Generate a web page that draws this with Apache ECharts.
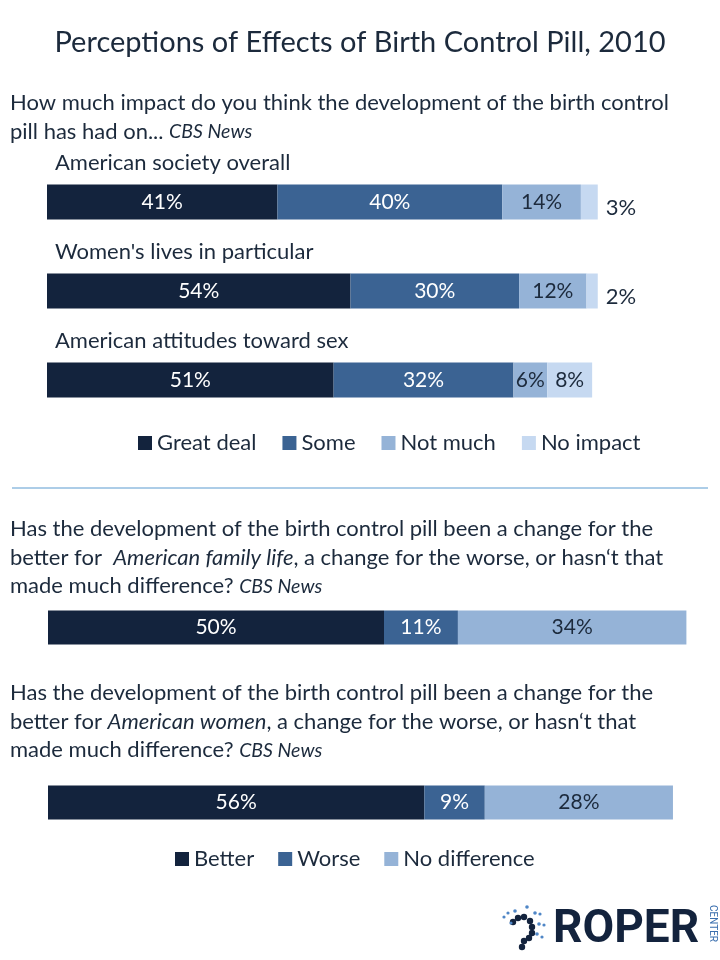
<!DOCTYPE html>
<html>
<head>
<meta charset="utf-8">
<script src="https://cdn.jsdelivr.net/npm/echarts@6/dist/echarts.min.js"></script>
<style>html,body{margin:0;padding:0;background:#fff}#c{width:720px;height:960px}</style>
</head>
<body>
<div id="c"></div>
<script>
// ---- data ----
var impactCategories = ['American society overall', "Women's lives in particular", 'American attitudes toward sex'];
var greatDeal = [41, 54, 51];
var some = [40, 30, 32];
var notMuch = [14, 12, 6];
var noImpact = [3, 2, 8];

var changeCategories = ['American family life', 'American women'];
var better = [50, 56];
var worse = [11, 9];
var noDifference = [34, 28];

var legendTop = ['Great deal', 'Some', 'Not much', 'No impact'];
var legendBottom = ['Better', 'Worse', 'No difference'];

// ---- style ----
var FONT = 'Lato';
var TXT = '#1c2a3c';
var C1 = '#13233d', C2 = '#3b6393', C3 = '#95b3d7', C4 = '#c6d9f1';
var FS = 22;

function barSeries(name, data, color, labelColor, grid, outsideSmall) {
  return {
    name: name, type: 'bar', stack: 's' + grid, xAxisIndex: grid, yAxisIndex: grid,
    barWidth: grid === 0 ? 35 : 34,
    itemStyle: { color: color },
    label: {
      show: true, position: 'inside', color: labelColor, fontFamily: FONT, fontSize: 21,
      formatter: '{c}%'
    },
    data: data.map(function (v) {
      if (outsideSmall && v < 5) {
        return { value: v, label: { position: 'right', distance: 8, color: TXT, fontSize: 22, offset: [0, 6] } };
      }
      return v;
    })
  };
}

function rich(lh) {
  return {
    fontWeight: 'normal',
    rich: {
      n: { fontFamily: FONT, fontSize: FS, fontWeight: 'normal', color: TXT, lineHeight: lh },
      i: { fontFamily: FONT, fontSize: FS, fontWeight: 'normal', fontStyle: 'italic', color: TXT, lineHeight: lh },
      s: { fontFamily: FONT, fontSize: 19.5, fontWeight: 'normal', fontStyle: 'italic', color: TXT, lineHeight: lh }
    }
  };
}

var chart = echarts.init(document.getElementById('c'));
chart.setOption({
  backgroundColor: '#fff',
  animation: false,
  title: [
    { text: 'Perceptions of Effects of Birth Control Pill, 2010', left: 'center', top: 23,
      textStyle: { fontFamily: FONT, fontSize: 29, fontWeight: 'normal', color: TXT } },
    { text: '{n|How much impact do you think the development of the birth control}\n{n|pill has had on... }{s|CBS News}',
      left: 5, top: 83, textStyle: rich(29) },
    { text: '{n|Has the development of the birth control pill been a change for the}\n{n|better for  }{i|American family life}{n|, a change for the worse, or hasn\u2018t that}\n{n|made much difference? }{s|CBS News}',
      left: 5, top: 510, textStyle: rich(28.5) },
    { text: '{n|Has the development of the birth control pill been a change for the}\n{n|better for }{i|American women}{n|, a change for the worse, or hasn\u2018t that}\n{n|made much difference? }{s|CBS News}',
      left: 5, top: 674, textStyle: rich(28.5) }
  ],
  legend: [
    { data: legendTop, left: 133, top: 427, icon: 'rect', itemWidth: 14, itemHeight: 14, itemGap: 26,
      selectedMode: false, textStyle: { fontFamily: FONT, fontSize: FS, color: TXT } },
    { data: legendBottom, left: 170, top: 843, icon: 'rect', itemWidth: 14, itemHeight: 14, itemGap: 24,
      selectedMode: false, textStyle: { fontFamily: FONT, fontSize: FS, color: TXT } }
  ],
  grid: [
    { left: 47, top: 157.5, width: 562, height: 267 },
    { left: 48, top: 540, width: 674, height: 350 }
  ],
  xAxis: [
    { type: 'value', gridIndex: 0, min: 0, max: 100, show: false },
    { type: 'value', gridIndex: 1, min: 0, max: 100, show: false }
  ],
  yAxis: [
    { type: 'category', gridIndex: 0, data: impactCategories, inverse: true,
      axisLine: { show: false }, axisTick: { show: false },
      axisLabel: { inside: true, align: 'left', verticalAlign: 'bottom', margin: 8,
        padding: [0, 0, 28, 0], fontFamily: FONT, fontSize: FS, color: TXT } },
    { type: 'category', gridIndex: 1, data: changeCategories, inverse: true, show: false }
  ],
  series: [
    barSeries('Great deal', greatDeal, C1, '#fff', 0),
    barSeries('Some', some, C2, '#fff', 0),
    barSeries('Not much', notMuch, C3, TXT, 0),
    barSeries('No impact', noImpact, C4, TXT, 0, true),
    barSeries('Better', better, C1, '#fff', 1),
    barSeries('Worse', worse, C2, '#fff', 1),
    barSeries('No difference', noDifference, C3, TXT, 1)
  ],
  graphic: [
    { type: 'line', shape: { x1: 12, y1: 488, x2: 708, y2: 488 }, style: { stroke: '#5a9bd0', lineWidth: 1 } },
    { type: 'group', children: [
      { type: 'text', x: 553, y: 930, style: { text: 'ROPER', fontFamily: 'Roboto', fontWeight: 'bold', fontSize: 46, fill: '#13233d', verticalAlign: 'middle' } },
      { type: 'text', x: 712, y: 905, rotation: -Math.PI / 2, style: { text: 'CENTER', fontFamily: 'Roboto', fontSize: 10, fill: '#3b6fae', verticalAlign: 'middle' } },
      { type: 'circle', shape: { cx: 513, cy: 922, r: 3.2 }, style: { fill: '#13233d' } },
      { type: 'circle', shape: { cx: 518, cy: 918, r: 3.2 }, style: { fill: '#13233d' } },
      { type: 'circle', shape: { cx: 524, cy: 917, r: 3.2 }, style: { fill: '#13233d' } },
      { type: 'circle', shape: { cx: 530, cy: 921, r: 3.2 }, style: { fill: '#13233d' } },
      { type: 'circle', shape: { cx: 532, cy: 927, r: 3.2 }, style: { fill: '#13233d' } },
      { type: 'circle', shape: { cx: 532, cy: 933, r: 3.2 }, style: { fill: '#13233d' } },
      { type: 'circle', shape: { cx: 529, cy: 938, r: 3.2 }, style: { fill: '#13233d' } },
      { type: 'circle', shape: { cx: 524, cy: 941, r: 3.2 }, style: { fill: '#13233d' } },
      { type: 'circle', shape: { cx: 522, cy: 947, r: 3.2 }, style: { fill: '#13233d' } },
      { type: 'circle', shape: { cx: 504, cy: 917, r: 1.6 }, style: { fill: '#4f86c6' } },
      { type: 'circle', shape: { cx: 508, cy: 913, r: 1.6 }, style: { fill: '#4f86c6' } },
      { type: 'circle', shape: { cx: 511, cy: 923, r: 1.6 }, style: { fill: '#4f86c6' } },
      { type: 'circle', shape: { cx: 515, cy: 911, r: 1.8 }, style: { fill: '#4f86c6' } },
      { type: 'circle', shape: { cx: 527, cy: 907, r: 1.8 }, style: { fill: '#4f86c6' } },
      { type: 'circle', shape: { cx: 535, cy: 913, r: 1.8 }, style: { fill: '#4f86c6' } },
      { type: 'circle', shape: { cx: 540, cy: 914, r: 1.6 }, style: { fill: '#4f86c6' } },
      { type: 'circle', shape: { cx: 539, cy: 924, r: 1.8 }, style: { fill: '#4f86c6' } },
      { type: 'circle', shape: { cx: 544, cy: 925, r: 1.6 }, style: { fill: '#4f86c6' } },
      { type: 'circle', shape: { cx: 537, cy: 934, r: 1.8 }, style: { fill: '#4f86c6' } },
      { type: 'circle', shape: { cx: 542, cy: 937, r: 1.6 }, style: { fill: '#4f86c6' } }
    ] }
  ]
});
</script>
</body>
</html>
